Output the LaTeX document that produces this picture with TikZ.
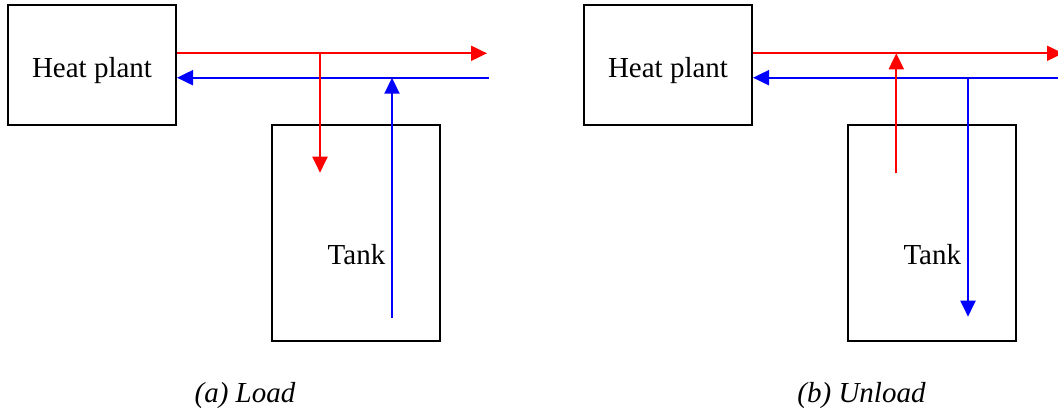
\documentclass[tikz,border=0pt]{standalone}
\usepackage{fontspec}
\setmainfont{Liberation Serif}
\usetikzlibrary{arrows.meta}
\tikzset{
  box/.style={draw=black, line width=2pt, inner sep=0pt},
  lbl/.style={font=\fontsize{29}{34}\selectfont, inner sep=0pt},
  captext/.style={font=\fontsize{29}{34}\selectfont\itshape, inner sep=0pt, anchor=base},
  hot/.style={draw={rgb,255:red,255;green,0;blue,0}, line width=2pt},
  cold/.style={draw={rgb,255:red,0;green,0;blue,255}, line width=2pt},
  flowtip/.style={-{Triangle[length=16pt,width=15pt]}},
}
\begin{document}
\begin{tikzpicture}[x=1pt,y=-1pt]
\clip (0,0) rectangle (1058,410);
\fill[white] (0,0) rectangle (1058,410);
% ---------- (a) Load ----------
\node[box, minimum width=168pt, minimum height=120pt] (hpA) at (92,65.3) {};
\node[lbl, anchor=base] (hpAt) at (92,77) {Heat plant};
\node[box, minimum width=168pt, minimum height=216pt] (tankA) at (356,233) {};
\node[lbl, anchor=base] (tankAt) at (356.5,264) {Tank};
\coordinate (rEndA) at (487,53.3);
\coordinate (bEndA) at (489,77.7);
\coordinate (rJA) at (320,53.3);
\coordinate (rDownA) at (320,172.7);
\coordinate (bJA) at (392,77.7);
\coordinate (bUpA) at (392,318);
\draw[hot, flowtip] (hpA.east |- rEndA) -- (rEndA);
\draw[cold, flowtip] (bEndA) -- (hpA.east |- bEndA);
\draw[hot, flowtip] (rJA) -- (rDownA);
\draw[cold, flowtip] (bUpA) -- (bJA);
\node[captext] (capA) at (245,402) {(a) Load};
% ---------- (b) Unload ----------
\node[box, minimum width=168pt, minimum height=120pt] (hpB) at (668,65.3) {};
\node[lbl, anchor=base] (hpBt) at (668,77) {Heat plant};
\node[box, minimum width=168pt, minimum height=216pt] (tankB) at (932.3,233) {};
\node[lbl, anchor=base] (tankBt) at (932.3,264) {Tank};
\coordinate (rEndB) at (1063,53.3);
\coordinate (bEndB) at (1066,77.7);
\coordinate (rJB) at (896.3,53.3);
\coordinate (rUpB) at (896.3,173.3);
\coordinate (bJB) at (968,77.7);
\coordinate (bDownB) at (968,316.7);
\draw[hot, flowtip] (hpB.east |- rEndB) -- (rEndB);
\draw[cold, flowtip] (bEndB) -- (hpB.east |- bEndB);
\draw[hot, flowtip] (rUpB) -- (rJB);
\draw[cold, flowtip] (bJB) -- (bDownB);
\node[captext] (capB) at (861.5,402) {(b) Unload};
\end{tikzpicture}
\end{document}
